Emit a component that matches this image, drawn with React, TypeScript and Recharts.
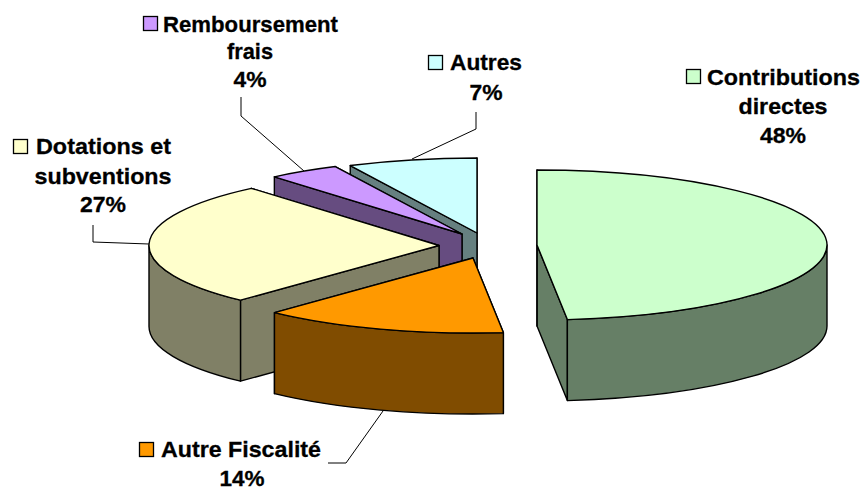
import { PieChart, Pie } from 'recharts';

// Budget split, listed from the back of the pie to the front so the slices overlap correctly
const categories = ['Autres', 'Remboursement frais', 'Dotations et subventions', 'Autre Fiscalité', 'Contributions directes'];
const shares = [7.2, 4.0, 26.8, 13.67, 48.33];
const percentLabels = ['7%', '4%', '27%', '14%', '48%'];

const topColors = ['#CCFFFF', '#CC99FF', '#FFFFCC', '#FF9900', '#CCFFCC'];
const wallColors = ['#668080', '#664C80', '#808066', '#804C00', '#667F66'];

const chartData = categories.map((name, i) => ({ name, value: shares[i] }));

const CX = 477;
const CY = 233;
const RADIUS = 290;
const SQUASH = 75 / 290;
const DEPTH = 81;

// how far each slice is pulled out of the pie
const explode = [[0, 0], [-15, 1], [-38, 12.5], [-4, 25], [60, 12]];

// text layout: [text, x, baseline, anchor, width]; first line starts after the key square
const labelLayout = [
  { key: [428, 55], lines: [['Autres', 450, 70, 'start', 72], ['7%', 486, 100, 'middle', 33]], leader: '476,112 476,129 412,159' },
  { key: [143, 16], lines: [['Remboursement', 163, 32, 'start', 175], ['frais', 250, 59, 'middle', 46], ['4%', 250, 87, 'middle', 33]], leader: '241,97 241,116 304,171' },
  { key: [13, 139], lines: [['Dotations et', 36, 154, 'start', 135], ['subventions', 103, 184, 'middle', 137], ['27%', 103, 212, 'middle', 46]], leader: '93,225 93,242 149,244' },
  { key: [139, 442], lines: [['Autre Fiscalité', 161, 457, 'start', 160], ['14%', 242, 486, 'middle', 45]], leader: '328,463 346,463 383,411' },
  { key: [686, 69], lines: [['Contributions', 707, 85, 'start', 153], ['directes', 783, 114, 'middle', 89], ['48%', 783, 143, 'middle', 46]], leader: '' },
];

const rad = (deg: number) => (deg * Math.PI) / 180;

function Slice3D(props: any, idx?: number) {
  const { cx, cy, outerRadius, startAngle, endAngle } = props;
  const i = idx ?? props.index ?? 0;
  const ox = cx + explode[i][0];
  const oy = cy + explode[i][1];
  const rx = outerRadius;
  const ry = outerRadius * SQUASH;
  const pt = (a: number) => [ox + rx * Math.cos(rad(a)), oy - ry * Math.sin(rad(a))];

  const [x0, y0] = pt(startAngle);
  const [x1, y1] = pt(endAngle);
  const large = endAngle - startAngle > 180 ? 1 : 0;
  const stroke = { stroke: '#000', strokeWidth: 1.4, strokeLinejoin: 'round' as const };

  // outer wall only where the rim faces the viewer (lower half of the ellipse)
  const lo = Math.max(startAngle, 180);
  const hi = Math.min(endAngle, 360);
  let rim = '';
  if (hi > lo) {
    const [ax, ay] = pt(lo);
    const [bx, by] = pt(hi);
    rim = `M${ax},${ay} A${rx},${ry} 0 0 0 ${bx},${by} L${bx},${by + DEPTH} A${rx},${ry} 0 0 1 ${ax},${ay + DEPTH} Z`;
  }

  return (
    <g>
      <path d={`M${ox},${oy} L${x0},${y0} L${x0},${y0 + DEPTH} L${ox},${oy + DEPTH} Z`} fill={wallColors[i]} {...stroke} />
      <path d={`M${ox},${oy} L${x1},${y1} L${x1},${y1 + DEPTH} L${ox},${oy + DEPTH} Z`} fill={wallColors[i]} {...stroke} />
      {rim && <path d={rim} fill={wallColors[i]} {...stroke} />}
      <path d={`M${ox},${oy} L${x0},${y0} A${rx},${ry} 0 ${large} 0 ${x1},${y1} Z`} fill={topColors[i]} {...stroke} />
    </g>
  );
}

function SliceLabel(props: any) {
  const i = props.index;
  const layout = labelLayout[i];
  return (
    <g>
      {layout.leader && <polyline points={layout.leader} fill="none" stroke="#000" strokeWidth={1} />}
      <rect x={layout.key[0] + 0.5} y={layout.key[1] + 0.5} width={14} height={14} fill={topColors[i]} stroke="#000" strokeWidth={1.3} />
      {layout.lines.map((l: any, k: number) => (
        <text
          key={k}
          x={l[1]}
          y={l[2]}
          textAnchor={l[3]}
          textLength={l[4]}
          lengthAdjust="spacingAndGlyphs"
          fontFamily="Liberation Sans, Arial, sans-serif"
          fontWeight="bold"
          fontSize={22.5}
          fill="#000"
          stroke="#000"
          strokeWidth={0.3}
        >
          {k === layout.lines.length - 1 ? percentLabels[i] : l[0]}
        </text>
      ))}
    </g>
  );
}

export default function App() {
  return (
    <div style={{ position: 'absolute', left: 0, top: 0, width: 862, height: 487, background: '#fff' }}>
      <PieChart width={862} height={487} margin={{ top: 0, right: 0, bottom: 0, left: 0 }}>
        <Pie
          data={chartData}
          dataKey="value"
          nameKey="name"
          cx={CX}
          cy={CY}
          innerRadius={0}
          outerRadius={RADIUS}
          startAngle={90}
          endAngle={450}
          paddingAngle={0}
          shape={Slice3D}
          label={SliceLabel}
          labelLine={false}
          isAnimationActive={false}
          rootTabIndex={-1}
        />
      </PieChart>
    </div>
  );
}
